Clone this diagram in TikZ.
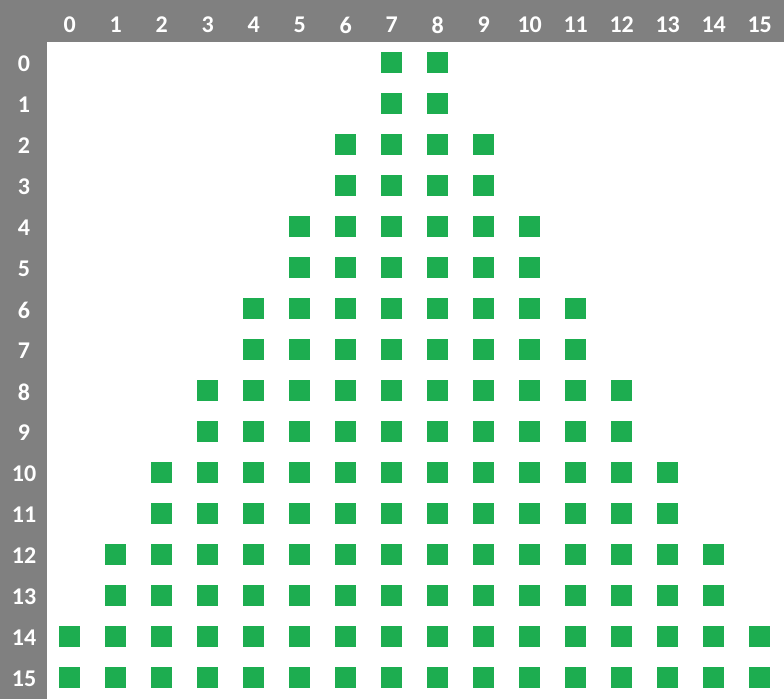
\documentclass[tikz,border=0pt]{standalone}
\usepackage{fontspec}
\setmainfont{Carlito}
\definecolor{hdr}{HTML}{808080}
\definecolor{grn}{HTML}{1DAD50}
\tikzset{
  lbl/.style={text=white,font=\fontsize{24}{24}\selectfont\bfseries,inner sep=0pt,anchor=center},
  cell/.style={fill=grn,draw=none,minimum size=21pt,inner sep=0pt,outer sep=0pt}
}
\begin{document}
\begin{tikzpicture}[x=1pt,y=-1pt]
\useasboundingbox (0,0) rectangle (784,699);
\fill[white] (0,0) rectangle (784,699);
\fill[hdr] (0,0) rectangle (784,42);
\fill[hdr] (0,0) rectangle (47,699);
\foreach \c in {0,...,15} \node[lbl] (c\c) at ({69.7+46*\c},25) {\c};
\foreach \r in {0,...,15} \node[lbl] (r\r) at (24,{64+41*\r}) {\r};
\foreach \r in {0,...,15} {
  \pgfmathtruncatemacro\lo{7-floor(\r/2)}
  \pgfmathtruncatemacro\hi{8+floor(\r/2)}
  \foreach \c in {\lo,...,\hi} \node[cell] (s\r-\c) at ({69.7+46*\c},{62.2+41*\r}) {};
}
\end{tikzpicture}
\end{document}
